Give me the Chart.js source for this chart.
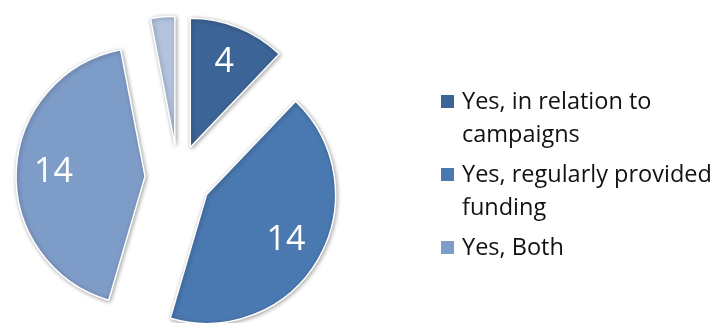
<!DOCTYPE html>
<html>
<head>
<meta charset="utf-8">
<script src="https://cdn.jsdelivr.net/npm/chart.js@4"></script>
<style>
  html, body { margin: 0; padding: 0; background: #fff; overflow: hidden; }
  #wrap { position: relative; width: 710px; height: 323px; }
  #pie { position: absolute; left: 0; top: 0; }
  #legend {
    position: absolute; left: 441px; top: 84px;
    font-family: "Open Sans", Lato, sans-serif; font-size: 23.5px; color: #111;
  }
  .item { position: relative; padding-left: 21px; line-height: 33px; margin-bottom: 7px; white-space: nowrap; }
  .box { position: absolute; left: 0; top: 11px; width: 13px; height: 13px; }
</style>
</head>
<body>
<div id="wrap">
  <canvas id="pie" width="710" height="323"></canvas>
  <div id="legend"></div>
</div>
<script>
// Funding answers (fourth slice has no legend entry)
const labels = ['Yes, in relation to campaigns', 'Yes, regularly provided funding', 'Yes, Both', 'Other'];
const values = [4, 14, 14, 1];
const colors = ['#3D6496', '#4A78B0', '#7E9CC8', '#B3C3DE'];
const legendLines = [['Yes, in relation to', 'campaigns'], ['Yes, regularly provided', 'funding'], ['Yes, Both']];
const shownValues = [true, true, true, false];

const RADIUS = 129;
const EXPLODE = 33; // px each slice is pulled out from the centre

// Chart.js shifts an arc by offset/4, grows its radius by
// offset/4 * (1 - sin(circumference)) and trims the arc length by
// that growth / PI; undo both so all slices keep radius and angle
const keepShape = {
  id: 'keepShape',
  beforeDatasetDraw(chart) {
    chart.getDatasetMeta(0).data.forEach((arc) => {
      if (!arc.$orig) arc.$orig = { start: arc.startAngle, end: arc.endAngle };
      const circ = arc.$orig.end - arc.$orig.start;
      const grow = EXPLODE * (1 - Math.sin(Math.min(Math.PI, circ)));
      const widen = grow / Math.PI / RADIUS / 2;
      arc.outerRadius = RADIUS - grow;
      arc.startAngle = arc.$orig.start - widen;
      arc.endAngle = arc.$orig.end + widen;
    });
  }
};

// soft drop shadow under the slices
const shadowPlugin = {
  id: 'sliceShadow',
  beforeDatasetDraw(chart) {
    const ctx = chart.ctx;
    ctx.save();
    ctx.shadowColor = 'rgba(0,0,0,0.35)';
    ctx.shadowBlur = 4;
    ctx.shadowOffsetX = 1;
    ctx.shadowOffsetY = 1;
  },
  afterDatasetDraw(chart) {
    chart.ctx.restore();
  }
};

// value labels inside each exploded slice
const valueLabels = {
  id: 'valueLabels',
  afterDatasetsDraw(chart) {
    const ctx = chart.ctx;
    const meta = chart.getDatasetMeta(0);
    ctx.save();
    ctx.fillStyle = '#fff';
    ctx.font = '34px "Open Sans", Lato, sans-serif';
    ctx.textAlign = 'center';
    ctx.textBaseline = 'middle';
    meta.data.forEach((arc, i) => {
      if (!shownValues[i]) return;
      const p = arc.getProps(['x', 'y', 'startAngle', 'endAngle']);
      const mid = (p.startAngle + p.endAngle) / 2;
      const dist = EXPLODE + RADIUS * 0.71;
      ctx.fillText(String(values[i]), p.x + Math.cos(mid) * dist, p.y + Math.sin(mid) * dist);
    });
    ctx.restore();
  }
};

new Chart(document.getElementById('pie'), {
  type: 'pie',
  data: {
    labels: labels,
    datasets: [{
      data: values,
      backgroundColor: colors,
      borderColor: '#fff',
      borderWidth: 1.5,
      offset: EXPLODE * 4,
      hoverOffset: 0
    }]
  },
  options: {
    responsive: false,
    animation: false,
    radius: RADIUS,
    layout: { padding: { left: 0, right: 354, top: 33, bottom: 0 } },
    plugins: {
      legend: { display: false },
      tooltip: { enabled: false }
    },
    events: []
  },
  plugins: [keepShape, shadowPlugin, valueLabels]
});

// legend with wrapped labels
const legend = document.getElementById('legend');
legendLines.forEach((lines, i) => {
  const item = document.createElement('div');
  item.className = 'item';
  const box = document.createElement('span');
  box.className = 'box';
  box.style.background = colors[i];
  item.appendChild(box);
  lines.forEach((line, j) => {
    if (j) item.appendChild(document.createElement('br'));
    item.appendChild(document.createTextNode(line));
  });
  legend.appendChild(item);
});
</script>
</body>
</html>
